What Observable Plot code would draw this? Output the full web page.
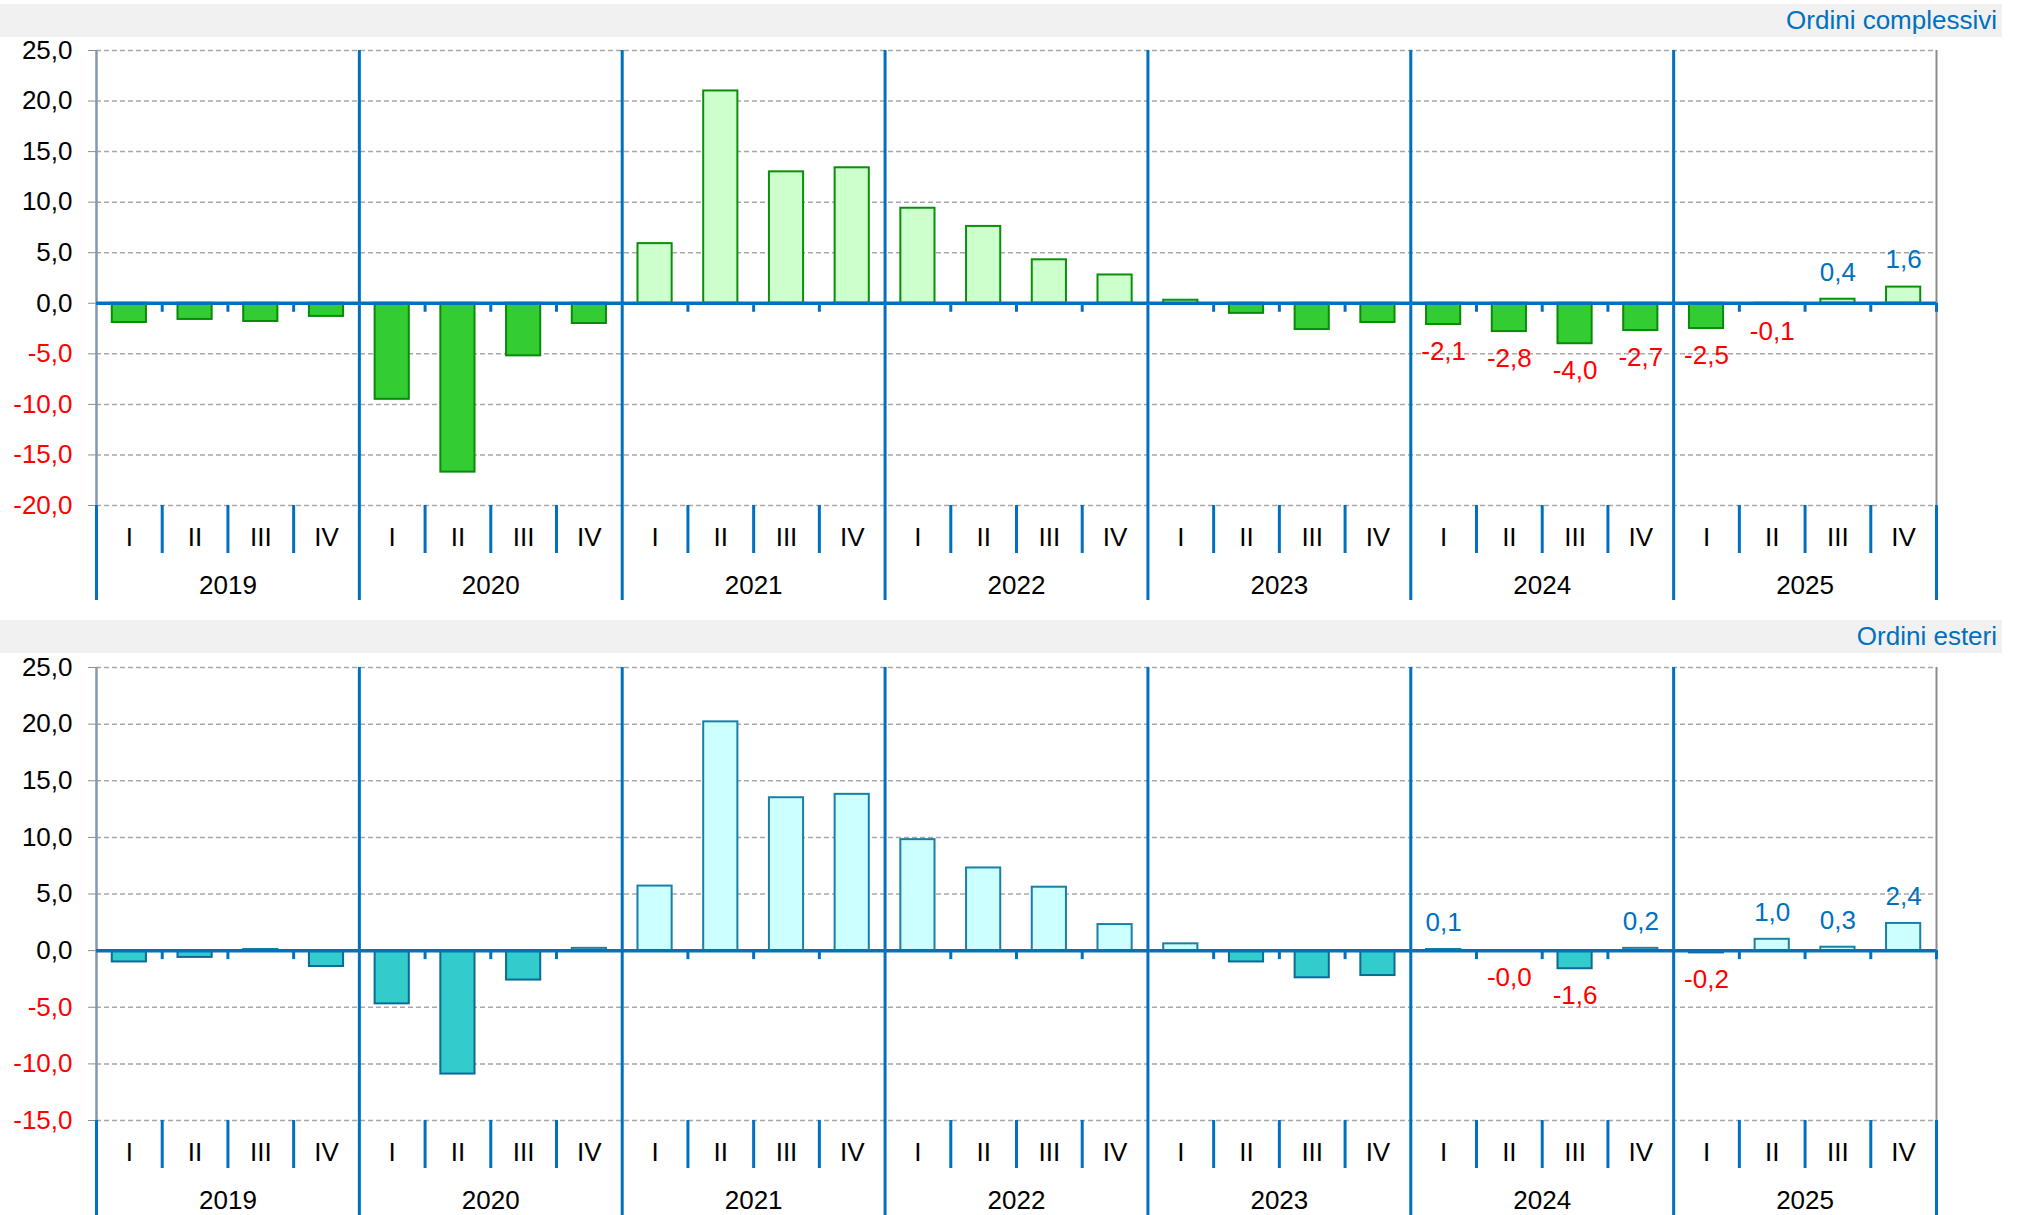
<!DOCTYPE html>
<html>
<head>
<meta charset="utf-8">
<script src="https://cdn.jsdelivr.net/npm/d3@7"></script>
<script src="https://cdn.jsdelivr.net/npm/@observablehq/plot@0.6"></script>
<style>
  html, body { margin: 0; padding: 0; background: #ffffff; }
  body { width: 2019px; height: 1215px; overflow: hidden; position: relative;
         font-family: "Liberation Sans", Arial, sans-serif; }
  .band { position: absolute; left: 0; width: 2002px; height: 33px; background: #f1f1f1;
          color: #0070c0; font-size: 26px; line-height: 33px; text-align: right;
          box-sizing: border-box; padding-right: 5px; }
  .chart { position: absolute; left: 0; }
</style>
</head>
<body>
<div class="band" style="top:4px">Ordini complessivi</div>
<div class="chart" id="c1" style="top:37px"></div>
<div class="band" style="top:620px">Ordini esteri</div>
<div class="chart" id="c2" style="top:653px"></div>
<script>
// ---- data ----
const years = ["2019", "2020", "2021", "2022", "2023", "2024", "2025"];
const quarters = ["I", "II", "III", "IV"];
const ordiniComplessivi = [
  -1.9, -1.6, -1.8, -1.3,
  -9.5, -16.7, -5.2, -2.0,
   5.9, 21.0, 13.0, 13.4,
   9.4, 7.6, 4.3, 2.8,
   0.3, -1.0, -2.6, -1.9,
  -2.1, -2.8, -4.0, -2.7,
  -2.5, -0.1, 0.4, 1.6
];
const ordiniEsteri = [
  -1.0, -0.6, 0.1, -1.4,
  -4.7, -10.9, -2.6, 0.2,
   5.7, 20.2, 13.5, 13.8,
   9.8, 7.3, 5.6, 2.3,
   0.6, -1.0, -2.4, -2.2,
   0.1, -0.04, -1.6, 0.2,
  -0.2, 1.0, 0.3, 2.4
];
const labelledYears = ["2024", "2025"];
const yTicksTop = [-20, -15, -10, -5, 0, 5, 10, 15, 20, 25];
const yTicksBottom = [-15, -10, -5, 0, 5, 10, 15, 20, 25];

// ---- drawing ----
const BLUE = "#0070c0";
const RED = "#ff0000";
const keys = years.flatMap(y => quarters.map(q => `${y}-${q}`));
const fmt = v => v.toFixed(1).replace(".", ",");

function drawPanel(el, cfg) {
  const W = 2019, mL = 96, mR = 83;
  const step = (W - mL - mR) / keys.length;
  const rows = keys.map((k, i) => ({
    key: k, year: years[Math.floor(i / 4)], q: quarters[i % 4], v: cfg.values[i]
  }));
  const yMin = cfg.yDomain[0];
  const qBounds = rows.filter(d => d.q !== "I");
  const yearBounds = rows.filter(d => d.q === "I").slice(1);
  const first = rows[0], last = rows[rows.length - 1];
  const lab = rows.filter(d => labelledYears.includes(d.year));
  const font = "'Liberation Sans', Arial, sans-serif";

  const chart = Plot.plot({
    width: W,
    height: cfg.height,
    marginLeft: mL,
    marginRight: mR,
    marginTop: cfg.marginTop,
    marginBottom: cfg.marginBottom,
    style: { fontFamily: font, fontSize: "26px", color: "#8c8c8c", background: "transparent", overflow: "visible" },
    x: { domain: keys, paddingInner: 0.48, paddingOuter: 0.24, round: false, axis: null },
    y: { domain: cfg.yDomain, ticks: cfg.yTicks, tickSize: 8, tickFormat: () => "", label: null },
    marks: [
      // dashed horizontal grid
      Plot.ruleY(cfg.yTicks, { stroke: "#a8a8a8", strokeWidth: 1.5, strokeDasharray: "5,3" }),
      // left / right frame edges in plot area (grey)
      Plot.ruleX([first], { x: "key", dx: -step / 2, stroke: "#8497b0", strokeWidth: 2.5 }),
      Plot.ruleX([last], { x: "key", dx: step / 2, stroke: "#8c8c8c", strokeWidth: 2 }),
      // bars
      Plot.barY(rows, {
        x: "key", y: "v",
        fill: d => d.v >= 0 ? cfg.posFill : cfg.negFill,
        stroke: d => d.v >= 0 ? cfg.posStroke : cfg.negStroke,
        strokeWidth: 2
      }),
      // zero line
      Plot.ruleY([0], { stroke: BLUE, strokeWidth: 3.5 }),
      // small ticks on zero line at quarter boundaries
      Plot.ruleX(qBounds, { x: "key", y1: 0, y2: 0, dx: -step / 2, insetBottom: -9, stroke: BLUE, strokeWidth: 3 }),
      Plot.ruleX([last], { x: "key", y1: 0, y2: 0, dx: step / 2, insetBottom: -9, stroke: BLUE, strokeWidth: 3 }),
      // quarter dividers in category area
      Plot.ruleX(qBounds, { x: "key", y1: yMin, y2: yMin, dx: -step / 2, insetBottom: -cfg.qLine, stroke: BLUE, strokeWidth: 3 }),
      // year dividers
      Plot.ruleX(yearBounds, { x: "key", dx: -step / 2, insetBottom: -cfg.yearLine, stroke: BLUE, strokeWidth: 3 }),
      // outer edges below the plot area
      Plot.ruleX([first], { x: "key", y1: yMin, y2: yMin, dx: -step / 2, insetBottom: -cfg.yearLine, stroke: BLUE, strokeWidth: 3 }),
      Plot.ruleX([last], { x: "key", y1: yMin, y2: yMin, dx: step / 2, insetBottom: -cfg.yearLine, stroke: BLUE, strokeWidth: 3 }),
      // y tick labels
      Plot.text(cfg.yTicks, {
        y: d => d, frameAnchor: "left", lineAnchor: "middle", dx: -24, textAnchor: "end",
        text: fmt, fill: d => d < 0 ? RED : "#000000", fontSize: 26
      }),
      // quarter labels
      Plot.text(rows, { x: "key", text: "q", frameAnchor: "bottom", lineAnchor: "middle", dy: cfg.qDy, fill: "#000000", fontSize: 26 }),
      // year labels
      Plot.text(rows.filter(d => d.q === "II"), {
        x: "key", text: "year", frameAnchor: "bottom", lineAnchor: "middle", dx: step / 2, dy: cfg.yearDy, fill: "#000000", fontSize: 26
      }),
      // value labels
      Plot.text(lab.filter(d => d.v >= 0), { x: "key", y: "v", text: d => fmt(d.v), dy: -27, fill: BLUE, fontSize: 26 }),
      Plot.text(lab.filter(d => d.v < 0), { x: "key", y: "v", text: d => fmt(d.v), dy: 27, fill: RED, fontSize: 26 })
    ]
  });
  el.appendChild(chart);
}

drawPanel(document.getElementById("c1"), {
  values: ordiniComplessivi,
  yDomain: [-20, 25], yTicks: yTicksTop,
  height: 568, marginTop: 13, marginBottom: 100,
  qLine: 48, yearLine: 95, qDy: 32, yearDy: 80,
  posFill: "#ccffcc", negFill: "#33cc33", posStroke: "#0a8f0a", negStroke: "#0a8a0a"
});

drawPanel(document.getElementById("c2"), {
  values: ordiniEsteri,
  yDomain: [-15, 25], yTicks: yTicksBottom,
  height: 562, marginTop: 14, marginBottom: 95,
  qLine: 48, yearLine: 95, qDy: 32, yearDy: 80,
  posFill: "#ccffff", negFill: "#33cccc", posStroke: "#1a7fa6", negStroke: "#0b6a96"
});
</script>
</body>
</html>
